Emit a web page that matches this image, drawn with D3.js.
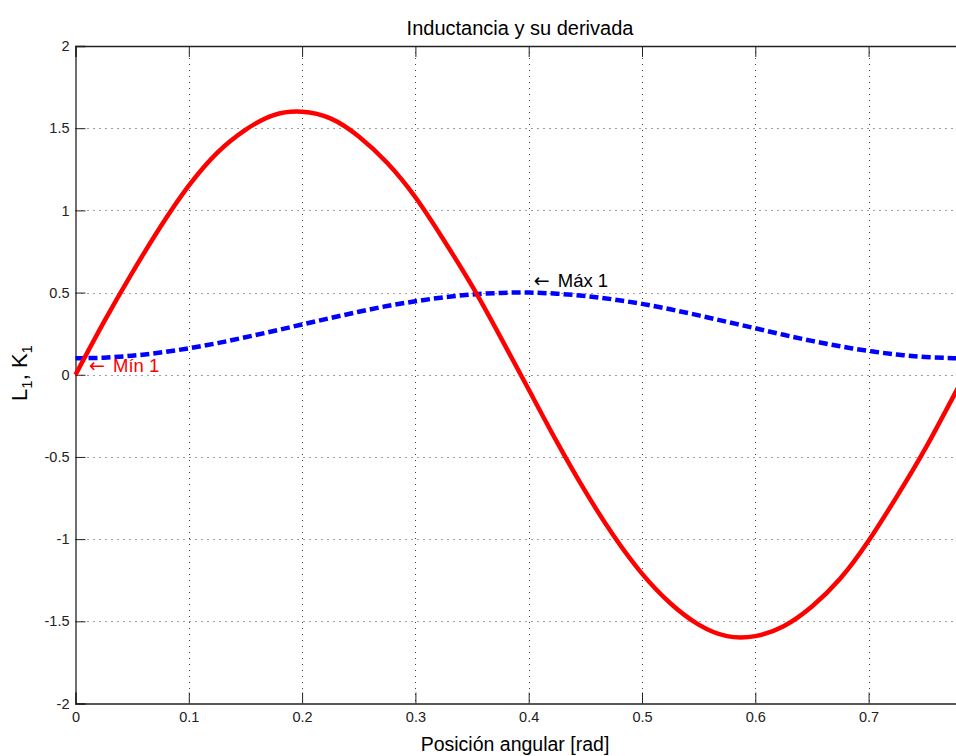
<!DOCTYPE html>
<html><head><meta charset="utf-8">
<script src="https://cdn.jsdelivr.net/npm/d3@7"></script>
<style>body{margin:0;background:#fff;overflow:hidden}svg{display:block}</style>
</head><body>
<script>
// angular position samples [rad]
const theta = [0,0.025,0.05,0.075,0.1,0.125,0.15,0.175,0.2,0.225,0.25,0.275,0.3,0.325,0.35,0.375,0.4,0.425,0.45,0.475,0.5,0.525,0.55,0.575,0.6,0.625,0.65,0.675,0.7,0.725,0.75,0.775,0.785];
// K1 (red, solid)
const kValues = [0,0.32,0.62,0.90,1.15,1.35,1.49,1.58,1.60,1.56,1.45,1.29,1.08,0.82,0.54,0.23,-0.09,-0.41,-0.71,-0.98,-1.21,-1.39,-1.52,-1.59,-1.59,-1.53,-1.41,-1.24,-1.01,-0.74,-0.45,-0.13,-0.005];
// L1 (blue, dashed)
const lValues = [0.100,0.104,0.116,0.135,0.161,0.192,0.228,0.266,0.306,0.345,0.383,0.418,0.447,0.471,0.488,0.498,0.500,0.493,0.479,0.458,0.431,0.398,0.361,0.322,0.283,0.243,0.206,0.173,0.145,0.123,0.108,0.101,0.100];
const xTicks = [0,0.1,0.2,0.3,0.4,0.5,0.6,0.7];
const yTicks = [-2,-1.5,-1,-0.5,0,0.5,1,1.5,2];
const xDomain = [0, 0.7854];
const yDomain = [-2, 2];
const annotations = [
  {x: 0.012, y: 0.015, arrow: "\u2190", text: "Mín 1", color: "#ff0000"},
  {x: 0.4045, y: 0.535, arrow: "\u2190", text: "Máx 1", color: "#000000"}
];

const W = 956, H = 756;
const L = 75.5, T = 46, B = 703.5;
const R = L + (xDomain[1]-xDomain[0]) * 1133;
const svg = d3.select("body").append("svg").attr("width", W).attr("height", H);
const x = d3.scaleLinear().domain(xDomain).range([L, R]);
const y = d3.scaleLinear().domain(yDomain).range([B, T]);
const font = "'Liberation Sans', Arial, Helvetica, sans-serif";

// grid
const grid = svg.append("g").attr("stroke", "#000").attr("stroke-width", 1).attr("stroke-dasharray", "1,5").attr("opacity", 0.75);
grid.selectAll("line.gx").data(xTicks.filter(d => d > 0)).join("line")
  .attr("x1", d => Math.round(x(d)) + 0.5).attr("x2", d => Math.round(x(d)) + 0.5)
  .attr("y1", T).attr("y2", B);
grid.selectAll("line.gy").data(yTicks.filter(d => d > -2 && d < 2)).join("line")
  .attr("y1", d => Math.round(y(d)) + 0.5).attr("y2", d => Math.round(y(d)) + 0.5)
  .attr("x1", L).attr("x2", R);

// axes
const fmt = d => String(d);
const gx = svg.append("g").attr("transform", `translate(0,${B})`)
  .call(d3.axisBottom(x).tickValues(xTicks).tickSize(-11).tickPadding(8).tickFormat(fmt));
const gxt = svg.append("g").attr("transform", `translate(0,${T})`)
  .call(d3.axisTop(x).tickValues(xTicks).tickSize(-11).tickFormat(""));
const gy = svg.append("g").attr("transform", `translate(${L},0)`)
  .call(d3.axisLeft(y).tickValues(yTicks).tickSize(-10).tickPadding(6).tickFormat(fmt));
[gx, gxt, gy].forEach(g => {
  g.attr("font-family", font).attr("font-size", 14.5);
  g.select(".domain").attr("stroke", "#222").attr("stroke-width", 1.3);
  g.selectAll(".tick line").attr("stroke", "#222");
  g.selectAll(".tick text").attr("fill", "#222");
});

// lines
const data = theta.map((t, i) => ({t, k: kValues[i], l: lValues[i]}));
svg.append("clipPath").attr("id", "c").append("rect").attr("x", L-3).attr("y", T-3).attr("width", R-L+6).attr("height", B-T+6);
svg.append("path").datum(data).attr("clip-path", "url(#c)")
  .attr("d", d3.line().x(d => x(d.t)).y(d => y(d.l)).curve(d3.curveNatural))
  .attr("fill", "none").attr("stroke", "#0000ff").attr("stroke-width", 4.5).attr("stroke-dasharray", "9,4");
svg.append("path").datum(data).attr("clip-path", "url(#c)")
  .attr("d", d3.line().x(d => x(d.t)).y(d => y(d.k)).curve(d3.curveNatural))
  .attr("fill", "none").attr("stroke", "#ff0000").attr("stroke-width", 4.5);

// annotations
const ann = svg.selectAll("text.ann").data(annotations).join("text").attr("class", "ann")
  .attr("x", d => x(d.x)).attr("y", d => y(d.y))
  .attr("fill", d => d.color).attr("font-family", font).attr("font-size", 18.5);
ann.append("tspan").attr("font-family", "'DejaVu Sans', sans-serif").attr("font-size", 19).text(d => d.arrow);
ann.append("tspan").attr("dx", 8).text(d => d.text);

// title and labels
svg.append("text").attr("x", 520).attr("y", 35).attr("text-anchor", "middle")
  .attr("font-family", font).attr("font-size", 20).attr("fill", "#000").text("Inductancia y su derivada");
svg.append("text").attr("x", 515).attr("y", 751).attr("text-anchor", "middle")
  .attr("font-family", font).attr("font-size", 19.5).attr("fill", "#000").text("Posición angular [rad]");
const yl = svg.append("text").attr("transform", "translate(27,373) rotate(-90)").attr("text-anchor", "middle")
  .attr("font-family", font).attr("font-size", 22).attr("fill", "#000");
yl.append("tspan").text("L");
yl.append("tspan").attr("font-size", 15).attr("dy", 5).text("1");
yl.append("tspan").attr("dy", -5).text(", K");
yl.append("tspan").attr("font-size", 15).attr("dy", 5).text("1");
</script>
</body></html>
